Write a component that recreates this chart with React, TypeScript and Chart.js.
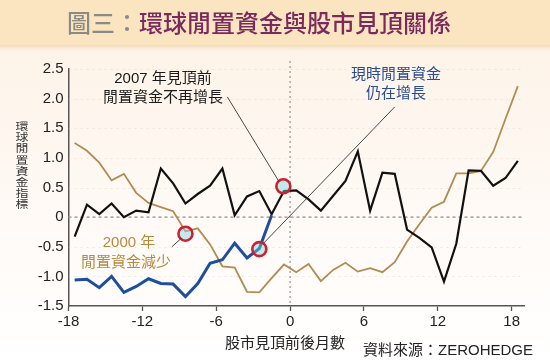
import React, { useEffect, useRef } from "react";
import { Chart, registerables } from "chart.js";

Chart.register(...registerables);

// months relative to market top (points sit mid-month)
const months = [
  -17.5, -16.5, -15.5, -14.5, -13.5, -12.5, -11.5, -10.5, -9.5, -8.5, -7.5, -6.5,
  -5.5, -4.5, -3.5, -2.5, -1.5, -0.5, 0.5, 1.5, 2.5, 3.5, 4.5, 5.5, 6.5, 7.5,
  8.5, 9.5, 10.5, 11.5, 12.5, 13.5, 14.5, 15.5, 16.5, 17.5, 18.5,
];

// 2007 top (black)
const liquidity2007 = [
  -0.33, 0.21, 0.05, 0.23, 0.0, 0.11, 0.08, 0.82, 0.57, 0.23, 0.39, 0.53,
  0.82, 0.03, 0.35, 0.44, 0.05, 0.44, 0.45, 0.3, 0.11, 0.36, 0.61, 1.11, 0.11,
  0.75, 0.73, -0.21, -0.35, -0.51, -1.09, -0.45, 0.79, 0.78, 0.53, 0.66, 0.95,
];

// 2000 top (gold)
const liquidity2000 = [
  1.25, 1.12, 0.92, 0.62, 0.73, 0.41, 0.24, 0.17, 0.1, -0.24, -0.19, -0.46,
  -0.83, -0.85, -1.26, -1.27, -1.03, -0.8, -0.93, -0.79, -1.08, -0.89, -0.77,
  -0.92, -0.86, -0.93, -0.76, -0.41, -0.12, 0.16, 0.26, 0.74, 0.74, 0.78, 1.1,
  1.66, 2.21,
];

// current (blue)
const liquidityNow = [
  -1.06, -1.05, -1.19, -1.0, -1.27, -1.17, -1.04, -1.12, -1.13, -1.34, -1.12,
  -0.78, -0.72, -0.44, -0.69, -0.53, 0.03,
];

// highlighted points (red circles)
const highlightX = [-8.5, -2.5, -0.55];
const highlightY = [-0.28, -0.54, 0.52];

const xTicks = [-18, -12, -6, 0, 6, 12, 18];
const yTicks = [-1.5, -1.0, -0.5, 0, 0.5, 1.0, 1.5, 2.0, 2.5];

// leader lines in data coordinates: [x1, y1, x2, y2]
const leader2007 = [-5.1, 2.03, -0.9, 0.6];
const leader2000 = [-9.6, -0.5, -8.85, -0.36];
const leaderNow = [-2.15, -0.44, 8.5, 1.86];

const LATIN = '"Liberation Sans", Arial, "Noto Sans CJK TC", sans-serif';
const CJK = '"Noto Sans CJK TC", "Noto Sans CJK SC", sans-serif';

const decorPlugin = {
  id: "decor",
  beforeDraw(chart: any) {
    const { ctx, width, height } = chart;
    ctx.save();
    const g = ctx.createLinearGradient(0, 46, 0, height);
    g.addColorStop(0, "#fdf3e8");
    g.addColorStop(0.55, "#fffaf6");
    g.addColorStop(1, "#ffffff");
    ctx.fillStyle = g;
    ctx.fillRect(0, 0, width, height);
    // title band
    ctx.fillStyle = "#fbe5c1";
    ctx.fillRect(0, 0, width, 45);
    const sh = ctx.createLinearGradient(0, 45, 0, 53);
    sh.addColorStop(0, "rgba(235,205,160,0.7)");
    sh.addColorStop(1, "rgba(253,243,232,0)");
    ctx.fillStyle = sh;
    ctx.fillRect(0, 45, width, 8);
    ctx.restore();
  },
  beforeDatasetsDraw(chart: any) {
    const { ctx, chartArea, scales } = chart;
    const x = scales.x;
    const y = scales.y;
    ctx.save();
    // faint horizontal grid
    yTicks.forEach((v) => {
      if (v === 0 || v === yTicks[0]) return;
      const py = Math.round(y.getPixelForValue(v)) + 0.5;
      ctx.strokeStyle = "rgba(205,195,185,0.35)";
      ctx.lineWidth = 1;
      ctx.setLineDash([2, 4]);
      ctx.beginPath();
      ctx.moveTo(chartArea.left, py);
      ctx.lineTo(chartArea.right, py);
      ctx.stroke();
    });
    // zero line
    const p0 = y.getPixelForValue(0);
    ctx.strokeStyle = "#a0a0a0";
    ctx.lineWidth = 1.5;
    ctx.setLineDash([3, 3]);
    ctx.beginPath();
    ctx.moveTo(chartArea.left, p0);
    ctx.lineTo(chartArea.right, p0);
    ctx.stroke();
    // vertical line at 0
    const px = x.getPixelForValue(0);
    ctx.strokeStyle = "#a8a8a8";
    ctx.setLineDash([2, 3]);
    ctx.beginPath();
    ctx.moveTo(px, chartArea.top - 8);
    ctx.lineTo(px, chartArea.bottom);
    ctx.stroke();
    ctx.restore();
  },
  afterDatasetsDraw(chart: any) {
    const { ctx, scales } = chart;
    const x = scales.x;
    const y = scales.y;
    ctx.save();
    ctx.strokeStyle = "#333";
    ctx.lineWidth = 0.9;
    [leader2007, leader2000, leaderNow].forEach((l) => {
      ctx.beginPath();
      ctx.moveTo(x.getPixelForValue(l[0]), y.getPixelForValue(l[1]));
      ctx.lineTo(x.getPixelForValue(l[2]), y.getPixelForValue(l[3]));
      ctx.stroke();
    });
    ctx.restore();
  },
  afterDraw(chart: any) {
    const { ctx } = chart;
    ctx.save();
    ctx.textBaseline = "middle";
    // title
    ctx.font = `500 24px ${CJK}`;
    ctx.textAlign = "left";
    const t1 = "圖三：";
    ctx.fillStyle = "#8c8a84";
    ctx.fillText(t1, 67, 23);
    const w1 = ctx.measureText(t1).width;
    ctx.fillStyle = "#7a2a5c";
    ctx.fillText("環球閒置資金與股市見頂關係", 67 + w1, 23);

    // annotations
    ctx.textAlign = "center";
    ctx.font = `15px ${LATIN}`;
    ctx.fillStyle = "#1a1a1a";
    ctx.fillText("2007 年見頂前", 163, 79);
    ctx.fillText("閒置資金不再增長", 163, 98);
    ctx.fillStyle = "#2b4b94";
    ctx.fillText("現時閒置資金", 396, 75);
    ctx.fillText("仍在增長", 396, 94);
    ctx.fillStyle = "#b8883f";
    ctx.fillText("2000 年", 129, 243);
    ctx.fillText("閒置資金減少", 126, 263);

    // y axis title (vertical, slightly compressed)
    ctx.fillStyle = "#333";
    ctx.font = `13px ${CJK}`;
    const yt = "環球閒置資金指標";
    for (let i = 0; i < yt.length; i++) {
      ctx.save();
      ctx.translate(22, 126 + i * 11.2);
      ctx.scale(1, 0.82);
      ctx.fillText(yt[i], 0, 0);
      ctx.restore();
    }

    // x axis title
    ctx.fillStyle = "#222";
    ctx.font = `15px ${CJK}`;
    ctx.fillText("股市見頂前後月數", 285, 342);

    // source
    ctx.textAlign = "left";
    ctx.font = `15px ${LATIN}`;
    ctx.fillText("資料來源：ZEROHEDGE", 363, 351);
    ctx.restore();
  },
};

export default function App() {
  const ref = useRef<HTMLCanvasElement | null>(null);

  useEffect(() => {
    if (!ref.current) return;
    const pts = (arr: number[]) => arr.map((v, i) => ({ x: months[i], y: v }));
    const chart = new Chart(ref.current, {
      type: "line",
      data: {
        datasets: [
          {
            label: "highlight",
            data: highlightX.map((v, i) => ({ x: v, y: highlightY[i] })),
            showLine: false,
            pointRadius: 7,
            pointBorderWidth: 2.6,
            pointBorderColor: "#cf2030",
            pointBackgroundColor: "rgba(120,215,225,0.45)",
            pointHoverRadius: 7,
          },
          {
            label: "now",
            data: pts(liquidityNow),
            borderColor: "#1d4f9e",
            borderWidth: 3,
            pointRadius: 0,
            tension: 0,
          },
          {
            label: "2007",
            data: pts(liquidity2007),
            borderColor: "#111111",
            borderWidth: 2.2,
            pointRadius: 0,
            tension: 0,
          },
          {
            label: "2000",
            data: pts(liquidity2000),
            borderColor: "#b38b52",
            borderWidth: 1.8,
            pointRadius: 0,
            tension: 0,
          },
        ],
      },
      options: {
        responsive: false,
        animation: false,
        devicePixelRatio: 1,
        layout: { padding: { left: 0, right: 26, top: 69, bottom: 0 } },
        plugins: {
          legend: { display: false },
          tooltip: { enabled: false },
        },
        events: [],
        scales: {
          x: {
            type: "linear",
            min: -18,
            max: 19,
            afterBuildTicks: (s: any) => {
              s.ticks = xTicks.map((v) => ({ value: v }));
            },
            afterFit: (s: any) => {
              s.height = 57;
            },
            grid: {
              display: true,
              drawOnChartArea: false,
              drawTicks: true,
              tickLength: 5,
              tickColor: "#555",
              tickWidth: 1.3,
            },
            border: { display: true, color: "#555", width: 1.5 },
            ticks: {
              autoSkip: false,
              maxRotation: 0,
              padding: 2,
              color: "#222",
              font: { family: LATIN, size: 15 },
              callback: (v: any) => String(v),
            },
          },
          y: {
            type: "linear",
            min: -1.5,
            max: 2.5,
            afterBuildTicks: (s: any) => {
              s.ticks = yTicks.map((v) => ({ value: v }));
            },
            afterFit: (s: any) => {
              s.width = 68.5;
            },
            grid: {
              display: true,
              drawOnChartArea: false,
              drawTicks: false,
            },
            border: { display: true, color: "#555", width: 1.5 },
            ticks: {
              padding: 5,
              color: "#222",
              font: { family: LATIN, size: 15 },
              callback: (v: any) => (v === 0 ? "0" : Number(v).toFixed(1)),
            },
          },
        },
      },
      plugins: [decorPlugin],
    });
    return () => chart.destroy();
  }, []);

  return (
    <div style={{ position: "fixed", left: 0, top: 0, width: 550, height: 363 }}>
      <canvas ref={ref} width={550} height={363} style={{ display: "block" }} />
    </div>
  );
}
